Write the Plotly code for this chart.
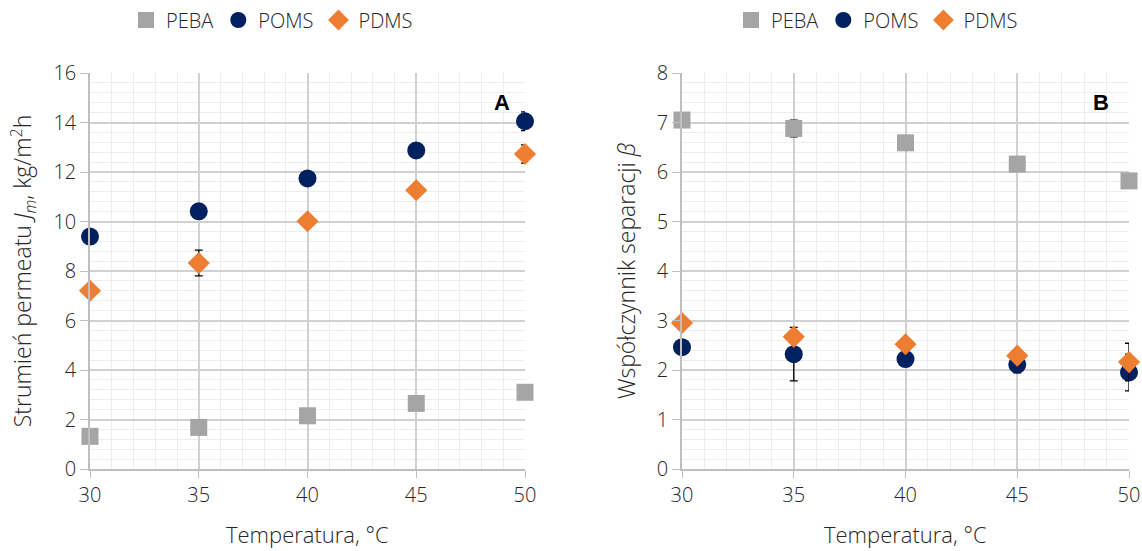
import plotly.graph_objects as go

# Temperature (°C)
temperature = [30, 35, 40, 45, 50]

# Panel A: permeate flux J_m, kg/m2h
flux_peba = [1.32, 1.68, 2.15, 2.65, 3.10]
flux_poms = [9.39, 10.41, 11.74, 12.87, 14.05]
flux_pdms = [7.20, 8.32, 10.01, 11.26, 12.73]
flux_poms_err = [None, None, None, 0.12, 0.38]
flux_pdms_err = [None, 0.52, None, 0.15, 0.37]

# Panel B: separation factor beta
beta_peba = [7.05, 6.88, 6.59, 6.16, 5.82]
beta_poms = [2.46, 2.32, 2.22, 2.11, 1.95]
beta_pdms = [2.95, 2.67, 2.52, 2.29, 2.16]
beta_peba_err = [None, 0.17, None, None, None]
beta_poms_err = [None, 0.54, None, 0.17, 0.37]
beta_pdms_err = [0.07, None, None, 0.10, 0.38]

x_ticks = [30, 35, 40, 45, 50]
x_title = "Temperatura, °C"

GRAY = "#A5A5A5"
NAVY = "#002060"
ORANGE = "#ED7D31"
TEXT = "#262626"
FONT = "Open Sans"

W, H = 1142, 551


def px_x(p):
    return p / W


def px_y(p):
    return 1 - p / H


fig = go.Figure()


def err(vals):
    if all(v is None for v in vals):
        return None
    return dict(type="data", array=[v if v is not None else float("nan") for v in vals],
                visible=True, color="black", thickness=1.3, width=4)


series = [
    ("PEBA", "square", GRAY, 17),
    ("POMS", "circle", NAVY, 18),
    ("PDMS", "diamond", ORANGE, 17),
]

panel_a = [flux_peba, flux_poms, flux_pdms]
panel_a_err = [[None] * 5, flux_poms_err, flux_pdms_err]
panel_b = [beta_peba, beta_poms, beta_pdms]
panel_b_err = [beta_peba_err, beta_poms_err, beta_pdms_err]

for (name, sym, col, size), ys, es in zip(series, panel_a, panel_a_err):
    fig.add_trace(go.Scatter(
        x=temperature, y=ys, mode="markers", name=name,
        marker=dict(symbol=sym, color=col, size=size, line=dict(width=0)),
        error_y=err(es), xaxis="x", yaxis="y", legend="legend",
        cliponaxis=False,
    ))

for (name, sym, col, size), ys, es in zip(series, panel_b, panel_b_err):
    fig.add_trace(go.Scatter(
        x=temperature, y=ys, mode="markers", name=name,
        marker=dict(symbol=sym, color=col, size=size, line=dict(width=0)),
        error_y=err(es), xaxis="x2", yaxis="y2", legend="legend2",
        cliponaxis=False,
    ))

ydom = [px_y(469), px_y(73)]

tick_font = dict(size=20, color=TEXT, family=FONT, weight=300)
xtitle_font = dict(size=22, color=TEXT, family=FONT, weight=300)
ytitle_font = dict(size=23, color=TEXT, family=FONT, weight=300)
legend_font = dict(size=20, color=TEXT, family=FONT, weight=300)

xaxis_common = dict(
    range=[30, 50], tickvals=x_ticks, showgrid=True, gridcolor="#D0D0D0", gridwidth=1.5,
    minor=dict(dtick=1, showgrid=True, gridcolor="#EDEDED", gridwidth=1, ticks=""),
    ticks="outside", ticklen=7, tickcolor="#BFBFBF", tickwidth=1.3,
    showline=True, linecolor="#BFBFBF", linewidth=1.5,
    zeroline=False, automargin=False,
    tickfont=tick_font,
)

yaxis_common = dict(
    showgrid=True, gridcolor="#D0D0D0", gridwidth=1.5,
    ticks="outside", ticklen=8, tickcolor="#BFBFBF", tickwidth=1.3,
    showline=True, linecolor="#BFBFBF", linewidth=1.5, zeroline=False,
    automargin=False, tickfont=tick_font,
)

legend_common = dict(orientation="h", xanchor="center", y=px_y(20), yanchor="middle",
                     font=legend_font, itemwidth=30, tracegroupgap=0,
                     bgcolor="rgba(0,0,0,0)")

fig.update_layout(
    width=W, height=H,
    margin=dict(l=0, r=0, t=0, b=0, autoexpand=False),
    paper_bgcolor="white", plot_bgcolor="white",
    font=dict(family=FONT, color=TEXT),
    xaxis=dict(domain=[px_x(90), px_x(525)], anchor="y", **xaxis_common),
    xaxis2=dict(domain=[px_x(682), px_x(1129)], anchor="y2", **xaxis_common),
    yaxis=dict(
        domain=ydom, anchor="x", range=[0, 16], dtick=2,
        minor=dict(dtick=0.4, showgrid=True, gridcolor="#EDEDED", gridwidth=1, ticks=""),
        title=dict(text="Strumień permeatu <i>J<sub>m</sub></i>, kg/m<sup>2</sup>h", font=ytitle_font),
        **yaxis_common,
    ),
    yaxis2=dict(
        domain=ydom, anchor="x2", range=[0, 8], dtick=1,
        minor=dict(dtick=0.2, showgrid=True, gridcolor="#EDEDED", gridwidth=1, ticks=""),
        title=dict(text="Współczynnik separacji <i>β</i>", font=ytitle_font),
        **yaxis_common,
    ),
    legend=dict(x=px_x(272), **legend_common),
    legend2=dict(x=px_x(877), **legend_common),
    annotations=[
        dict(text=x_title, x=0.5, xref="x domain", y=0, yref="paper",
             yanchor="bottom", showarrow=False, font=xtitle_font),
        dict(text=x_title, x=0.5, xref="x2 domain", y=0, yref="paper",
             yanchor="bottom", showarrow=False, font=xtitle_font),
        dict(text="<b>A</b>", x=px_x(502), y=px_y(88), xref="paper", yref="paper",
             showarrow=False, font=dict(size=22, color="black", family="Liberation Sans")),
        dict(text="<b>B</b>", x=px_x(1111), y=px_y(88), xref="paper", yref="paper",
             showarrow=False, font=dict(size=22, color="black", family="Liberation Sans")),
    ],
)

fig.write_html("out.html")
